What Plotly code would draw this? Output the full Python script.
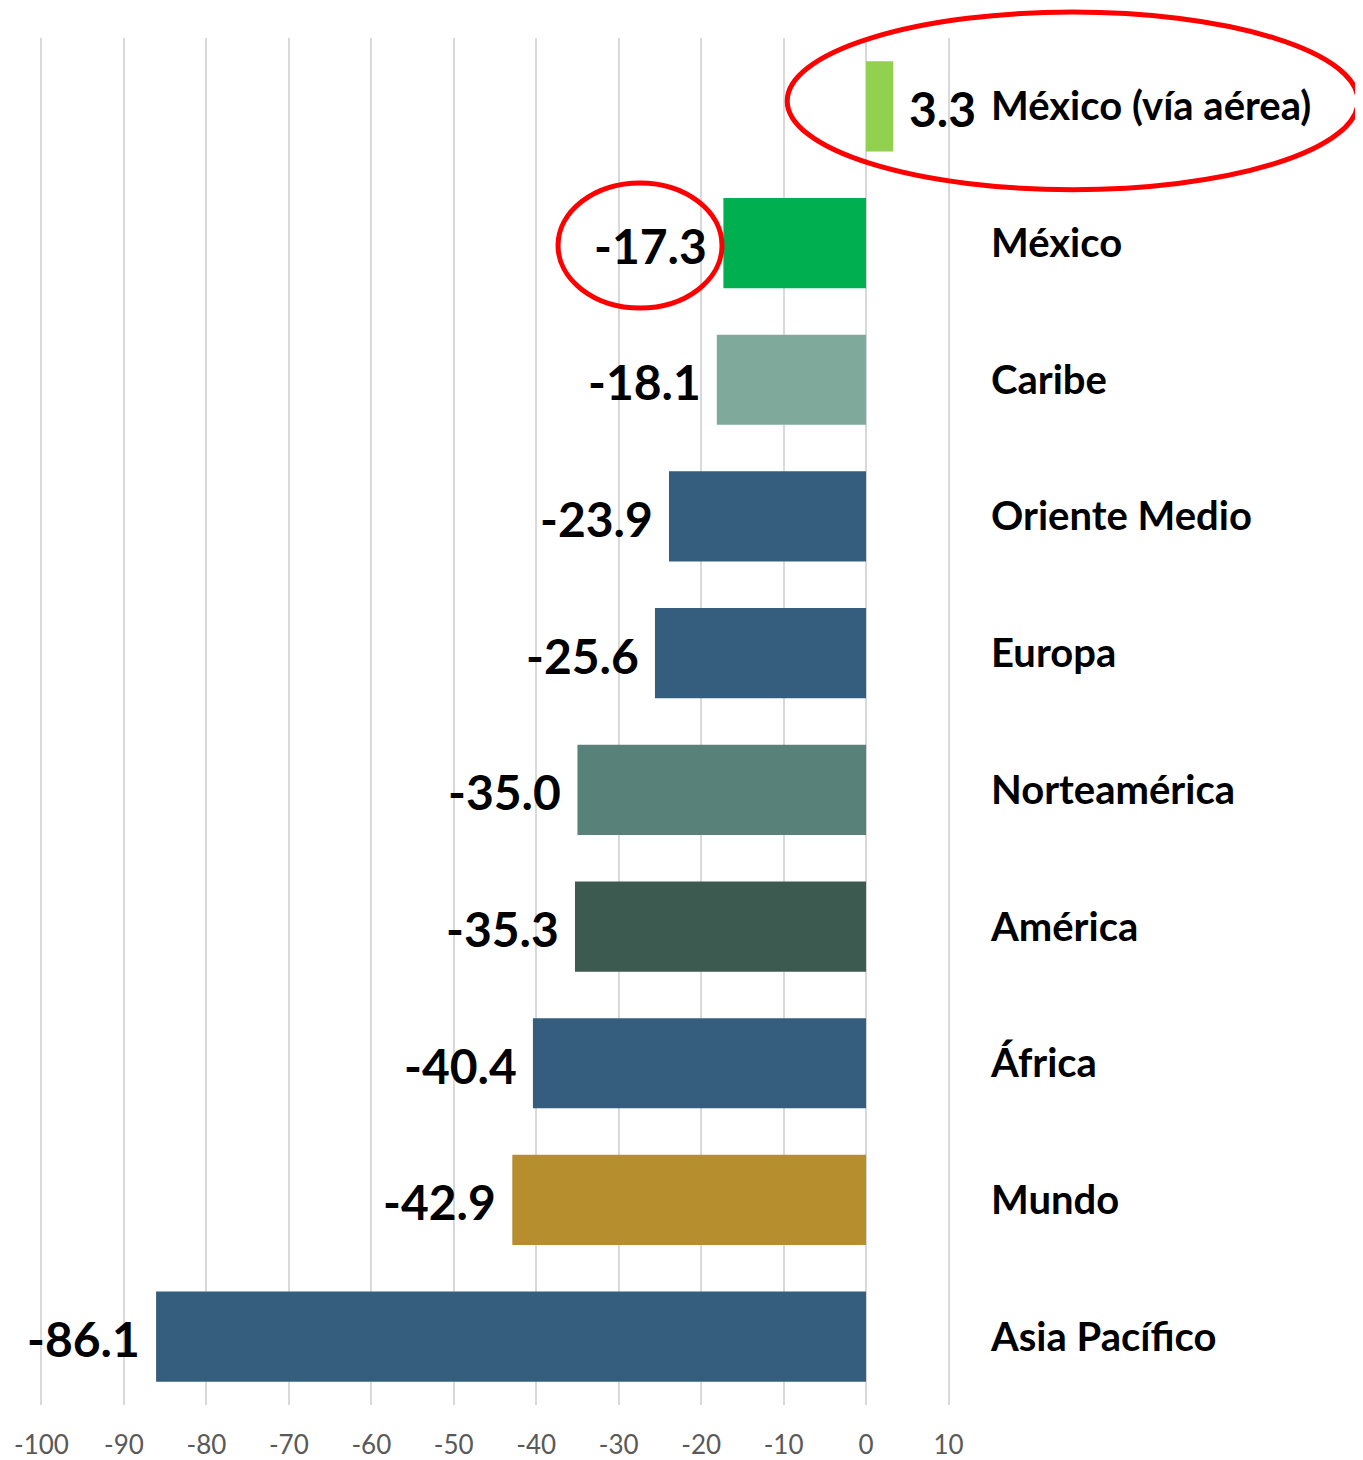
import plotly.graph_objects as go

categories = ["México (vía aérea)", "México", "Caribe", "Oriente Medio", "Europa",
              "Norteamérica", "América", "África", "Mundo", "Asia Pacífico"]
values = [3.3, -17.3, -18.1, -23.9, -25.6, -35.0, -35.3, -40.4, -42.9, -86.1]
colors = ["#92D050", "#00B050", "#7FA99B", "#355E7E", "#355E7E",
          "#588279", "#3D5A50", "#355E7E", "#B78E2E", "#355E7E"]
tick_vals = list(range(-100, 11, 10))

FONT = "Lato"

fig = go.Figure()
fig.add_trace(go.Bar(
    x=values, y=categories, orientation="h",
    marker=dict(color=colors, line=dict(width=0)),
    width=0.66, hoverinfo="x+y",
))

for c, v in zip(categories, values):
    fig.add_annotation(
        x=v, y=c, xref="x", yref="y",
        text=f"{v:.1f}", showarrow=False,
        xanchor="right" if v < 0 else "left",
        xshift=-14 if v < 0 else 14, yshift=-2,
        font=dict(family=FONT, size=48, color="#000000", weight="bold"),
    )

# highlight ellipses (paper coordinates, not clipped)
fig.add_shape(type="circle", xref="paper", yref="paper",
              x0=0.808, x1=1.4245, y0=0.889, y1=1.019,
              line=dict(color="#FF0000", width=5))
fig.add_shape(type="circle", xref="paper", yref="paper",
              x0=0.5605, x1=0.7376, y0=0.8025, y1=0.894,
              line=dict(color="#FF0000", width=5))

# the page body adds an 8px offset, so the figure is 8px smaller than the window
fig.update_layout(
    width=1355, height=1452,
    margin=dict(l=31, r=398, t=30, b=55, autoexpand=False),
    paper_bgcolor="white", plot_bgcolor="white",
    showlegend=False,
    bargap=0.34,
    font=dict(family=FONT),
    xaxis=dict(
        range=[-100.3, 12], tickvals=tick_vals, ticktext=[str(t) for t in tick_vals],
        showgrid=True, gridcolor="#D9D9D9", gridwidth=2,
        zeroline=False, showline=False, ticks="", automargin=False,
        tickfont=dict(family=FONT, size=26, color="#595959"),
        ticklabelstandoff=22,
    ),
    yaxis=dict(
        categoryorder="array", categoryarray=categories, autorange="reversed",
        side="right", showgrid=False, zeroline=False, showline=False, ticks="",
        automargin=False,
        tickfont=dict(family=FONT, size=40, color="#000000", weight="bold"),
        ticklabelstandoff=25,
    ),
)

fig.write_html("out.html")
